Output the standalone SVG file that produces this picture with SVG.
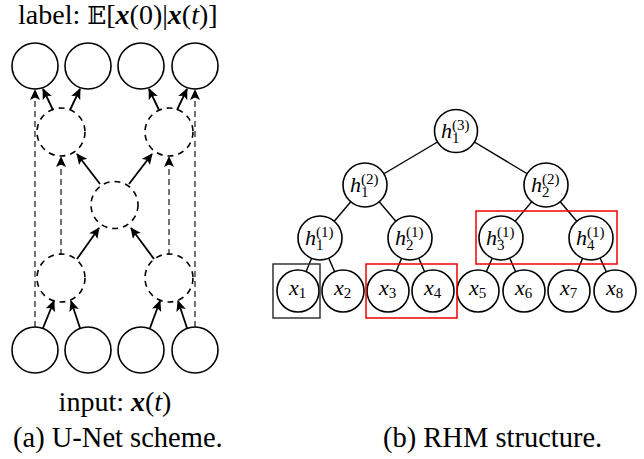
<svg xmlns="http://www.w3.org/2000/svg" width="644" height="459" viewBox="0 0 644 459">
<style>
.n{fill:#fff;stroke:#000;stroke-width:1.6}
.d{fill:none;stroke:#000;stroke-width:1.6;stroke-dasharray:6 5}
.a{stroke:#000;stroke-width:1.8;fill:none}
.da{stroke:#000;stroke-width:1.1;stroke-dasharray:6 4;fill:none}
.e{stroke:#000;stroke-width:1.4}
</style>
<defs>
<marker id="ah" markerUnits="userSpaceOnUse" markerWidth="12" markerHeight="10" refX="10" refY="5" orient="auto">
<path d="M0,0 L11,5 L0,10 L2.5,5 z" fill="#000"/>
</marker>
</defs>
<g id="connectors">
<line class="da" x1="35" y1="327" x2="35" y2="90" marker-end="url(#ah)"/>
<line class="da" x1="195" y1="327" x2="195" y2="90" marker-end="url(#ah)"/>
<line class="da" x1="61" y1="255" x2="61" y2="157" marker-end="url(#ah)"/>
<line class="da" x1="169" y1="255" x2="169" y2="157" marker-end="url(#ah)"/>
<line class="a" x1="43" y1="328" x2="54" y2="301" marker-end="url(#ah)"/>
<line class="a" x1="80" y1="328" x2="71" y2="301" marker-end="url(#ah)"/>
<line class="a" x1="150" y1="328" x2="160" y2="301" marker-end="url(#ah)"/>
<line class="a" x1="187" y1="328" x2="178" y2="301" marker-end="url(#ah)"/>
<line class="a" x1="77" y1="259" x2="99" y2="228" marker-end="url(#ah)"/>
<line class="a" x1="154" y1="259" x2="131" y2="228" marker-end="url(#ah)"/>
<line class="a" x1="100" y1="184" x2="77" y2="154" marker-end="url(#ah)"/>
<line class="a" x1="129" y1="184" x2="152" y2="154" marker-end="url(#ah)"/>
<line class="a" x1="53" y1="110" x2="43" y2="89" marker-end="url(#ah)"/>
<line class="a" x1="70" y1="110" x2="80" y2="89" marker-end="url(#ah)"/>
<line class="a" x1="159" y1="110" x2="149" y2="89" marker-end="url(#ah)"/>
<line class="a" x1="177" y1="110" x2="187" y2="89" marker-end="url(#ah)"/>
<line class="e" x1="456" y1="131" x2="365" y2="185"/>
<line class="e" x1="456" y1="131" x2="546" y2="185"/>
<line class="e" x1="365" y1="185" x2="320" y2="238"/>
<line class="e" x1="365" y1="185" x2="410" y2="238"/>
<line class="e" x1="546" y1="185" x2="501" y2="238"/>
<line class="e" x1="546" y1="185" x2="591" y2="238"/>
<line class="e" x1="320" y1="238" x2="298" y2="291"/>
<line class="e" x1="320" y1="238" x2="343" y2="291"/>
<line class="e" x1="410" y1="238" x2="388" y2="291"/>
<line class="e" x1="410" y1="238" x2="433" y2="291"/>
<line class="e" x1="501" y1="238" x2="478" y2="291"/>
<line class="e" x1="501" y1="238" x2="524" y2="291"/>
<line class="e" x1="591" y1="238" x2="569" y2="291"/>
<line class="e" x1="591" y1="238" x2="615" y2="291"/>
</g>
<g id="unet-out"><circle class="n" cx="35" cy="66" r="23"/><circle class="n" cx="88" cy="66" r="23"/><circle class="n" cx="141" cy="66" r="23"/><circle class="n" cx="195" cy="66" r="23"/></g>
<g id="unet-in"><circle class="n" cx="35" cy="350" r="23"/><circle class="n" cx="88" cy="350" r="23"/><circle class="n" cx="141" cy="350" r="23"/><circle class="n" cx="195" cy="350" r="23"/></g>
<g id="unet-up-l"><circle class="d" cx="61" cy="132" r="24"/></g>
<g id="unet-up-r"><circle class="d" cx="169" cy="132" r="24"/></g>
<g id="unet-mid"><circle class="d" cx="114.5" cy="205" r="23.5"/></g>
<g id="unet-lo-l"><circle class="d" cx="61" cy="278" r="24"/></g>
<g id="unet-lo-r"><circle class="d" cx="169" cy="278" r="24"/></g>
<g font-family="Liberation Serif, Times New Roman, serif" fill="#000">
<g id="txt-label"><text x="18" y="24" font-size="28">label: <tspan font-family="DejaVu Serif, serif" font-size="25">𝔼</tspan>[<tspan font-weight="bold" font-style="italic">x</tspan>(0)|<tspan font-weight="bold" font-style="italic">x</tspan>(<tspan font-style="italic">t</tspan>)]</text></g>
<g id="txt-input"><text x="115" y="411" font-size="28" text-anchor="middle">input: <tspan font-weight="bold" font-style="italic">x</tspan>(<tspan font-style="italic">t</tspan>)</text></g>
<g id="cap-a"><text x="13" y="447" font-size="28.5">(a) U-Net scheme.</text></g>
<g id="cap-b"><text x="383" y="447" font-size="28.5">(b) RHM structure.</text></g>
</g>
<g id="h13"><circle class="n" cx="456" cy="131" r="21.5"/></g>
<g id="h12"><circle class="n" cx="365" cy="185" r="22"/></g>
<g id="h22"><circle class="n" cx="546" cy="185" r="22"/></g>
<g id="h11"><circle class="n" cx="320" cy="238" r="22"/></g>
<g id="h21"><circle class="n" cx="410" cy="238" r="22"/></g>
<g id="h31"><circle class="n" cx="501" cy="238" r="22"/></g>
<g id="h41"><circle class="n" cx="591" cy="238" r="22"/></g>
<g id="x1"><circle class="n" cx="298" cy="291" r="21"/></g>
<g id="x2"><circle class="n" cx="343" cy="291" r="21"/></g>
<g id="x3"><circle class="n" cx="388" cy="291" r="21"/></g>
<g id="x4"><circle class="n" cx="433" cy="291" r="21"/></g>
<g id="x5"><circle class="n" cx="478" cy="291" r="21"/></g>
<g id="x6"><circle class="n" cx="524" cy="291" r="21"/></g>
<g id="x7"><circle class="n" cx="569" cy="291" r="21"/></g>
<g id="x8"><circle class="n" cx="615" cy="291" r="21"/></g>
<g id="tree-labels" font-family="Liberation Serif, Times New Roman, serif" fill="#000" font-size="22">
<text x="441" y="138"><tspan font-style="italic">h</tspan><tspan font-size="15" dy="5">1</tspan><tspan font-size="15" dx="-7.5" dy="-13">(3)</tspan></text>
<text x="350" y="192"><tspan font-style="italic">h</tspan><tspan font-size="15" dy="5">1</tspan><tspan font-size="15" dx="-7.5" dy="-13">(2)</tspan></text>
<text x="531" y="192"><tspan font-style="italic">h</tspan><tspan font-size="15" dy="5">2</tspan><tspan font-size="15" dx="-7.5" dy="-13">(2)</tspan></text>
<text x="305" y="245"><tspan font-style="italic">h</tspan><tspan font-size="15" dy="5">1</tspan><tspan font-size="15" dx="-7.5" dy="-13">(1)</tspan></text>
<text x="395" y="245"><tspan font-style="italic">h</tspan><tspan font-size="15" dy="5">2</tspan><tspan font-size="15" dx="-7.5" dy="-13">(1)</tspan></text>
<text x="486" y="245"><tspan font-style="italic">h</tspan><tspan font-size="15" dy="5">3</tspan><tspan font-size="15" dx="-7.5" dy="-13">(1)</tspan></text>
<text x="576" y="245"><tspan font-style="italic">h</tspan><tspan font-size="15" dy="5">4</tspan><tspan font-size="15" dx="-7.5" dy="-13">(1)</tspan></text>
<text x="289" y="295"><tspan font-style="italic">x</tspan><tspan font-size="15" dy="3">1</tspan></text>
<text x="334" y="295"><tspan font-style="italic">x</tspan><tspan font-size="15" dy="3">2</tspan></text>
<text x="379" y="295"><tspan font-style="italic">x</tspan><tspan font-size="15" dy="3">3</tspan></text>
<text x="424" y="295"><tspan font-style="italic">x</tspan><tspan font-size="15" dy="3">4</tspan></text>
<text x="469" y="295"><tspan font-style="italic">x</tspan><tspan font-size="15" dy="3">5</tspan></text>
<text x="515" y="295"><tspan font-style="italic">x</tspan><tspan font-size="15" dy="3">6</tspan></text>
<text x="560" y="295"><tspan font-style="italic">x</tspan><tspan font-size="15" dy="3">7</tspan></text>
<text x="606" y="295"><tspan font-style="italic">x</tspan><tspan font-size="15" dy="3">8</tspan></text>
</g>
<g id="boxes">
<rect x="273" y="264" width="47" height="54" fill="none" stroke="#333" stroke-width="1.5"/>
<rect x="366" y="264" width="91" height="54" fill="none" stroke="#e00" stroke-width="1.5"/>
<rect x="476" y="211" width="141" height="53" fill="none" stroke="#e00" stroke-width="1.5"/>
</g>
</svg>
